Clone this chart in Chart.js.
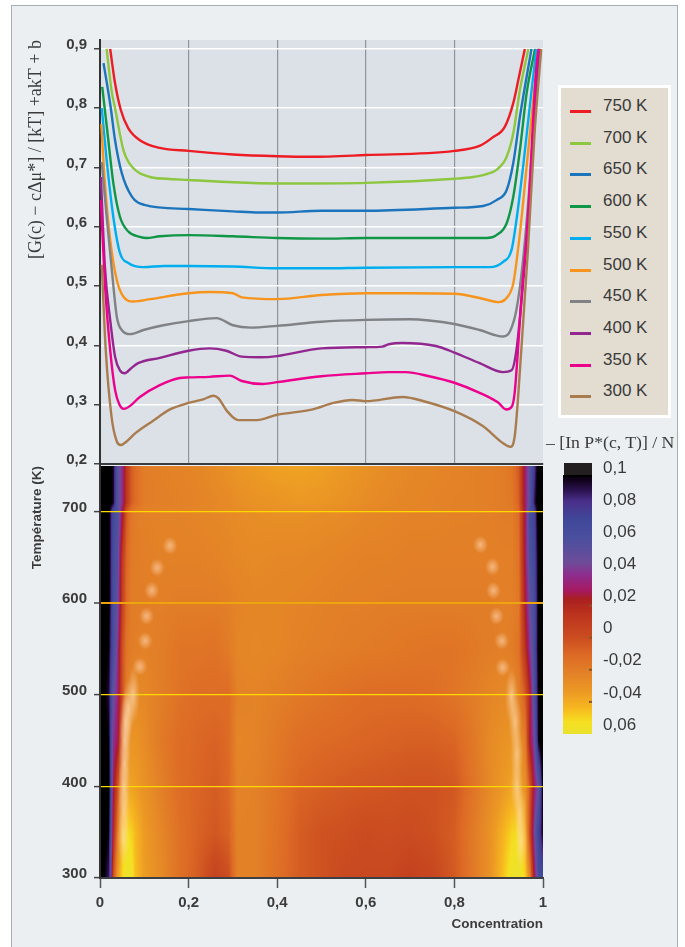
<!DOCTYPE html>
<html>
<head>
<meta charset="utf-8">
<script src="https://cdn.jsdelivr.net/npm/chart.js@4"></script>
<style>
  html, body { margin: 0; padding: 0; background: #fff; overflow: hidden; }
  #page { position: relative; width: 685px; height: 947px; overflow: hidden; }
  #panel { position: absolute; left: 11px; top: 5px; width: 667px; height: 960px; background: #ebeff2; border: 1.5px solid #a5aeb5; box-sizing: border-box; }
  canvas { position: absolute; }
  #legend { position: absolute; left: 558px; top: 85px; width: 113px; height: 333px; box-sizing: border-box; background: #e2dcd1; border: 3px solid #fff; font: 17px "Liberation Sans"; color: #3a3a3a; }
  #legend div { position: absolute; left: 42px; line-height: 20px; white-space: nowrap; }
  #legend span { position: absolute; left: 9px; width: 21px; height: 3px; }
  #barTitle { position: absolute; left: 546px; top: 432px; font: 17.7px "Liberation Serif"; color: #3a3a3a; white-space: nowrap; }
</style>
</head>
<body>
<div id="page">
  <div id="panel"></div>
  <canvas id="curves" width="685" height="484" style="left:0;top:0"></canvas>
  <canvas id="heat" width="685" height="497" style="left:0;top:450px"></canvas>
  <canvas id="bar" width="145" height="310" style="left:540px;top:440px"></canvas>
  <div id="legend"></div>
  <div id="barTitle">– [In P*(c, T)] / N</div>
</div>
<script>
// free energy curves
const temps = [750, 700, 650, 600, 550, 500, 450, 400, 350, 300];
const colors = ["#ed1c24", "#8dc63f", "#1c75bc", "#0f9647", "#00aeef", "#f7941d", "#808285", "#92278f", "#ec008c", "#a97c50"];

const c750 = [.023,.034,.047,.064,.09,.135,.2,.3,.4,.474,.6,.8,.858,.885,.914,.933,.946,.959];
const g750 = [.9,.842,.797,.766,.746,.733,.728,.722,.719,.718,.721,.728,.737,.75,.769,.809,.854,.9];
const c700 = [.015,.026,.034,.053,.075,.113,.15,.2,.3,.4,.47,.6,.8,.842,.873,.895,.918,.933,.948,.967];
const g700 = [.9,.83,.8,.729,.699,.684,.681,.679,.675,.673,.673,.674,.681,.684,.689,.696,.718,.758,.831,.9];
const c650 = [.008,.024,.034,.049,.072,.10,.2,.3,.36,.4,.5,.6,.8,.865,.895,.918,.933,.948,.974];
const g650 = [.876,.802,.746,.691,.651,.637,.63,.626,.624,.624,.627,.627,.632,.635,.645,.662,.708,.786,.9];
const c600 = [.005,.017,.03,.045,.064,.09,.105,.135,.2,.3,.4,.5,.6,.8,.873,.895,.918,.933,.948,.963,.982];
const g600 = [.836,.758,.674,.617,.592,.583,.581,.584,.586,.584,.581,.58,.581,.581,.581,.586,.606,.651,.73,.825,.9];
const c550 = [.004,.015,.03,.045,.064,.098,.145,.2,.3,.4,.5,.6,.8,.88,.91,.929,.94,.955,.97,.985];
const g550 = [.8,.713,.617,.556,.539,.532,.534,.534,.533,.53,.53,.531,.532,.532,.541,.561,.611,.701,.802,.9];
const c500 = [.003,.011,.023,.038,.053,.075,.113,.2,.247,.3,.32,.4,.5,.6,.7,.8,.857,.9,.92,.933,.948,.963,.978,.99];
const g500 = [.773,.674,.578,.51,.482,.474,.478,.488,.49,.488,.481,.478,.485,.488,.488,.487,.48,.473,.482,.505,.59,.701,.814,.9];
const c450 = [.004,.015,.026,.038,.049,.068,.098,.143,.2,.263,.3,.34,.4,.5,.6,.7,.743,.8,.857,.91,.925,.94,.955,.97,.985,.993];
const g450 = [.709,.617,.533,.448,.426,.419,.426,.434,.441,.446,.434,.43,.433,.44,.443,.444,.442,.436,.426,.415,.423,.46,.544,.674,.842,.9];
const c400 = [.002,.011,.023,.034,.045,.056,.071,.086,.135,.2,.247,.285,.32,.36,.4,.5,.6,.637,.652,.682,.758,.8,.857,.91,.929,.94,.955,.97,.985,.992];
const g400 = [.684,.533,.443,.381,.358,.353,.362,.37,.379,.391,.395,.391,.381,.38,.382,.395,.397,.398,.402,.404,.399,.388,.37,.355,.358,.392,.505,.645,.842,.9];
const c350 = [.002,.011,.023,.034,.044,.054,.068,.09,.135,.18,.2,.247,.293,.32,.367,.4,.5,.6,.652,.69,.743,.8,.857,.898,.917,.929,.936,.951,.966,.985,.99];
const g350 = [.645,.505,.392,.325,.3,.293,.298,.313,.333,.345,.346,.347,.349,.34,.335,.338,.348,.353,.355,.355,.348,.337,.32,.304,.292,.296,.32,.477,.617,.87,.9];
const c300 = [.004,.013,.026,.038,.047,.06,.08,.12,.158,.2,.233,.256,.267,.286,.312,.354,.4,.48,.527,.57,.6,.683,.735,.8,.864,.91,.926,.936,.951,.966,.981,.996];
const g300 = [.536,.392,.28,.238,.232,.238,.252,.273,.292,.303,.309,.315,.311,.29,.274,.274,.283,.292,.303,.308,.306,.313,.305,.289,.264,.235,.229,.246,.392,.561,.758,.9];
const curveC = [c750, c700, c650, c600, c550, c500, c450, c400, c350, c300];
const curveG = [g750, g700, g650, g600, g550, g500, g450, g400, g350, g300];

// heat map grid: -[ln P*(c,T)]/N estimated from the colours
const heatC = [0,.02,.03,.04,.05,.06,.07,.08,.10,.14,.18,.22,.26,.29,.31,.35,.40,.45,.50,.55,.60,.65,.70,.75,.80,.84,.88,.91,.93,.945,.96,.97,.98,.99,1];
const heatT = [300, 350, 400, 450, 500, 550, 600, 650, 700, 710, 750];
const heat300 = [.11,.09,0,-.035,-.05,-.058,-.058,-.045,-.035,-.026,-.014,-.006,.006,0,-.022,-.022,-.014,-.006,-.002,.002,.003,.003,.007,.004,-.005,-.017,-.03,-.046,-.058,-.06,-.05,-.025,.025,.065,.07];
const heat350 = [.11,.10,.02,-.02,-.045,-.052,-.05,-.044,-.034,-.024,-.014,-.008,-.004,-.008,-.022,-.022,-.015,-.006,-.002,-.001,.001,0,.001,-.001,-.006,-.018,-.03,-.042,-.05,-.052,-.04,0,.045,.075,.10];
const heat400 = [.11,.105,.03,0,-.022,-.035,-.037,-.035,-.03,-.021,-.012,-.009,-.006,-.01,-.023,-.022,-.016,-.009,-.007,-.005,-.004,-.003,-.002,-.002,-.004,-.015,-.026,-.033,-.037,-.036,-.03,-.005,.03,.05,.105];
const heat450 = [.11,.10,.04,.028,0,-.025,-.031,-.031,-.027,-.018,-.012,-.01,-.008,-.011,-.024,-.023,-.018,-.013,-.011,-.01,-.009,-.008,-.007,-.007,-.009,-.017,-.026,-.03,-.032,-.03,-.02,.025,.045,.10,.11];
const heat500 = [.11,.095,.05,.035,0,-.02,-.024,-.026,-.025,-.02,-.015,-.012,-.012,-.012,-.022,-.023,-.021,-.018,-.016,-.014,-.012,-.012,-.012,-.013,-.016,-.02,-.024,-.026,-.026,-.022,-.005,.02,.06,.10,.11];
const heat550 = [.11,.10,.065,.04,0,-.016,-.02,-.021,-.022,-.02,-.016,-.016,-.015,-.019,-.024,-.025,-.024,-.022,-.021,-.02,-.019,-.018,-.017,-.016,-.016,-.018,-.02,-.021,-.02,-.015,.015,.04,.065,.105,.11];
const heat600 = [.11,.105,.065,.05,.008,-.012,-.019,-.02,-.02,-.021,-.02,-.02,-.02,-.021,-.023,-.024,-.024,-.023,-.022,-.021,-.021,-.02,-.02,-.02,-.02,-.02,-.02,-.021,-.021,-.018,.025,.05,.065,.105,.11];
const heat650 = [.11,.105,.068,.055,.012,-.01,-.018,-.02,-.021,-.022,-.022,-.022,-.023,-.024,-.025,-.026,-.025,-.025,-.024,-.023,-.022,-.022,-.021,-.021,-.021,-.021,-.021,-.021,-.021,-.015,.03,.06,.07,.105,.11];
const heat700 = [.11,.105,.07,.06,.03,-.005,-.016,-.02,-.022,-.023,-.023,-.024,-.025,-.026,-.027,-.028,-.029,-.029,-.028,-.027,-.025,-.024,-.023,-.023,-.022,-.022,-.021,-.02,-.02,-.012,.03,.065,.075,.11,.11];
const heat710 = [.11,.108,.098,.055,.04,.012,-.005,-.012,-.02,-.021,-.022,-.023,-.025,-.026,-.028,-.03,-.031,-.033,-.032,-.03,-.027,-.025,-.024,-.023,-.022,-.022,-.021,-.02,-.018,-.008,.032,.055,.09,.11,.11];
const heat750 = [.11,.108,.098,.055,.04,.012,-.005,-.012,-.02,-.022,-.023,-.024,-.027,-.03,-.032,-.034,-.037,-.037,-.036,-.033,-.03,-.027,-.025,-.024,-.023,-.022,-.021,-.02,-.016,-.005,.032,.055,.08,.11,.11];
const heatRows = [heat300, heat350, heat400, heat450, heat500, heat550, heat600, heat650, heat700, heat710, heat750];

// pale ridge (c,T): the continuous part and the separate blobs
const ridgeC = [.053,.054,.054,.055,.056,.058,.064,.075,.951,.948,.941,.941,.937,.929];
const ridgeT = [345,375,400,425,450,470,485,500,340,370,400,435,470,498];
const blobC = [.09,.102,.105,.117,.129,.158,.909,.907,.895,.888,.886,.859];
const blobT = [531,559,586,614,639,663,530,559,586,614,640,664];

// colour scale
const scaleValues = [-.06,-.0525,-.044,-.034,-.021,-.011,0,.014,.024,.029,.0387,.047,.062,.074,.085,.091,.099];
const scaleColors = [[235,226,46],[245,224,32],[247,184,31],[236,154,36],[226,127,39],[221,106,37],[203,77,32],[189,52,30],[169,32,31],[166,25,94],[143,44,141],[109,76,153],[74,79,158],[64,71,153],[74,47,138],[46,21,86],[14,0,21]];
const barLabels = ["0,06", "-0,04", "-0,02", "0", "0,02", "0,04", "0,06", "0,08", "0,1"];

Chart.defaults.font.family = '"Liberation Sans"';
Chart.defaults.color = "#3b3b3b";
Chart.defaults.animation = false;
Chart.defaults.responsive = false;
Chart.defaults.plugins.legend.display = false;
Chart.defaults.plugins.tooltip.enabled = false;

const comma = v => String(+v.toFixed(1)).replace(".", ",");
const tickFont = { size: 15, weight: "bold" };
const fixWidth = w => scale => { scale.width = w; };
const fixHeight = h => scale => { scale.height = h; };

function colorFor(v) {
  const n = scaleValues.length;
  if (v <= scaleValues[0]) return scaleColors[0];
  if (v >= scaleValues[n - 1]) return v > .1 ? [0, 0, 0] : scaleColors[n - 1];
  let i = 0;
  while (scaleValues[i + 1] < v) i++;
  const t = (v - scaleValues[i]) / (scaleValues[i + 1] - scaleValues[i]);
  return scaleColors[i].map((a, k) => a + (scaleColors[i + 1][k] - a) * t);
}

function gridIndex(list, v) {
  let i = 0;
  while (i < list.length - 2 && list[i + 1] < v) i++;
  const t = Math.min(1, Math.max(0, (v - list[i]) / (list[i + 1] - list[i])));
  return [i, t];
}

function heatValue(c, T) {
  const [i, u] = gridIndex(heatC, c);
  const [j, w] = gridIndex(heatT, T);
  const a = heatRows[j][i] * (1 - u) + heatRows[j][i + 1] * u;
  const b = heatRows[j + 1][i] * (1 - u) + heatRows[j + 1][i + 1] * u;
  return a * (1 - w) + b * w;
}

const plotBackground = {
  id: "plotBackground",
  beforeDraw(chart) {
    const a = chart.chartArea;
    chart.ctx.fillStyle = "#dbe1e6";
    chart.ctx.fillRect(a.left, a.top, a.right - a.left, a.bottom - a.top);
  }
};

const heatImage = {
  id: "heatImage",
  beforeDraw(chart) {
    const a = chart.chartArea, xs = chart.scales.x, ys = chart.scales.y;
    const w = Math.round(a.right - a.left), h = Math.round(a.bottom - a.top);
    const img = chart.ctx.createImageData(w, h);
    for (let py = 0; py < h; py++) {
      const T = ys.getValueForPixel(a.top + py + .5);
      for (let px = 0; px < w; px++) {
        const rgb = colorFor(heatValue(xs.getValueForPixel(a.left + px + .5), T));
        const k = (py * w + px) * 4;
        img.data[k] = rgb[0]; img.data[k + 1] = rgb[1]; img.data[k + 2] = rgb[2]; img.data[k + 3] = 255;
      }
    }
    chart.ctx.putImageData(img, Math.round(a.left), Math.round(a.top));
  }
};

const barImage = {
  id: "barImage",
  beforeDraw(chart) {
    const a = chart.chartArea, ys = chart.scales.y, ctx = chart.ctx;
    for (let py = Math.round(a.top); py < a.bottom; py++) {
      const v = ys.getValueForPixel(py + .5);
      if (v > .101) {
        ctx.fillStyle = "#231f20";
        ctx.fillRect(a.left + 1, py, a.right - a.left - 1, 1);
      } else {
        ctx.fillStyle = "rgb(" + colorFor(v).map(Math.round).join(",") + ")";
        ctx.fillRect(a.left, py, a.right - a.left, 1);
      }
    }
  },
  afterDraw(chart) {
    const a = chart.chartArea, ys = chart.scales.y;
    chart.ctx.fillStyle = "#8a5520";
    [-.04, -.02, 0, .02].forEach(v => chart.ctx.fillRect(a.right - 3, ys.getPixelForValue(v) - 1, 3, 2));
  }
};

function paleSprite(w, h, color) {
  const s = document.createElement("canvas");
  s.width = w; s.height = h;
  const g = s.getContext("2d");
  g.translate(w / 2, h / 2);
  g.scale(w / 2, h / 2);
  const r = g.createRadialGradient(0, 0, 0, 0, 0, 1);
  r.addColorStop(0, color);
  r.addColorStop(1, "rgba(255,215,170,0)");
  g.fillStyle = r;
  g.fillRect(-1, -1, 2, 2);
  return s;
}

new Chart(document.getElementById("curves"), {
  type: "scatter",
  data: {
    datasets: temps.map((t, i) => ({
      label: t + " K",
      data: curveC[i].map((c, k) => ({ x: c, y: curveG[i][k] })),
      showLine: true,
      borderColor: colors[i],
      backgroundColor: colors[i],
      borderWidth: 2.4,
      pointRadius: 0,
      cubicInterpolationMode: "monotone",
      order: -i
    }))
  },
  plugins: [plotBackground],
  options: {
    layout: { padding: { left: 0, right: 142, top: 40, bottom: 20 } },
    scales: {
      x: {
        min: 0, max: 1,
        afterFit: fixHeight(0),
        ticks: { display: false, stepSize: .2 },
        grid: {
          drawTicks: false,
          lineWidth: 1.2,
          color: ctx => (ctx.tick && ctx.tick.value > .01 && ctx.tick.value < .99) ? "#8f9599" : "rgba(0,0,0,0)"
        },
        border: { color: "#3a3d40", width: 2 }
      },
      y: {
        min: .2, max: .915,
        afterFit: fixWidth(100),
        ticks: { stepSize: .1, includeBounds: false, font: tickFont, padding: 7, labelOffset: -4, callback: comma },
        grid: { color: "#fff", lineWidth: 1.5, tickColor: "#444", tickLength: 6, tickWidth: 1.5 },
        border: { color: "#333", width: 2 },
        title: {
          display: true, align: "end",
          text: "[G(c) − cΔμ*] / [kT] +akT + b",
          font: { family: '"Liberation Serif"', size: 18 },
          padding: { top: 25, bottom: 0 }
        }
      }
    }
  }
});

const curveChart = Chart.getChart("curves");
const legendBox = document.getElementById("legend");
Chart.defaults.plugins.legend.labels.generateLabels(curveChart)
  .sort((a, b) => a.datasetIndex - b.datasetIndex)
  .forEach((item, i) => {
    const row = document.createElement("div");
    row.style.top = (8 + i * 31.7) + "px";
    row.textContent = item.text;
    const swatch = document.createElement("span");
    swatch.style.background = item.strokeStyle;
    swatch.style.top = (22 + i * 31.7) + "px";
    legendBox.appendChild(row);
    legendBox.appendChild(swatch);
  });

const ridgeSprite = paleSprite(13, 58, "rgba(255,228,190,.62)");
const blobSprite = paleSprite(15, 18, "rgba(255,205,165,.7)");

new Chart(document.getElementById("heat"), {
  type: "scatter",
  data: {
    datasets: [
      {
        label: "ridge",
        data: ridgeC.map((c, k) => ({ x: c, y: ridgeT[k] })),
        pointStyle: ridgeSprite,
        pointRadius: 3
      },
      {
        label: "blobs",
        data: blobC.map((c, k) => ({ x: c, y: blobT[k] })),
        pointStyle: blobSprite,
        pointRadius: 3
      }
    ]
  },
  plugins: [heatImage],
  options: {
    layout: { padding: { left: 0, right: 142, top: 14, bottom: 0 } },
    scales: {
      x: {
        min: 0, max: 1,
        afterFit: fixHeight(69),
        ticks: { stepSize: .2, font: tickFont, padding: 6, maxRotation: 0, callback: comma },
        grid: { drawOnChartArea: false, tickColor: "#555", tickLength: 10, tickWidth: 1.5 },
        border: { color: "#3d3f42", width: 2 },
        title: {
          display: true, align: "end",
          text: "Concentration",
          font: { size: 13.5, weight: "bold" },
          padding: { top: 0, bottom: 15 }
        }
      },
      y: {
        min: 300, max: 750,
        afterFit: fixWidth(100),
        ticks: { stepSize: 100, includeBounds: false, font: tickFont, padding: 7, labelOffset: -4 },
        grid: {
          tickColor: "#444", tickLength: 6, tickWidth: 1.5,
          color: ctx => {
            if (!ctx.tick) return "rgba(0,0,0,0)";
            if (ctx.tick.value === 300) return "#fff";
            return ctx.tick.value === 600 ? "#eda50d" : "#ffd800";
          },
          lineWidth: ctx => (ctx.tick && ctx.tick.value === 600) ? 2 : 1.2
        },
        border: { color: "#333", width: 2 },
        title: {
          display: true, align: "end",
          text: "Température (K)",
          font: { size: 13.5, weight: "bold" },
          padding: { top: 29, bottom: 0 }
        }
      }
    }
  }
});

new Chart(document.getElementById("bar"), {
  type: "scatter",
  data: { datasets: [{ data: [] }] },
  plugins: [barImage],
  options: {
    layout: { padding: { left: 23, right: 0, top: 23, bottom: 16 } },
    scales: {
      x: { display: false },
      y: {
        position: "right",
        min: -.06, max: .10875,
        afterFit: fixWidth(93),
        ticks: {
          stepSize: .02, includeBounds: false, padding: 3, labelOffset: -9,
          font: { size: 17 }, color: "#3a3a3a",
          callback: (v, i) => barLabels[i]
        },
        grid: { display: false },
        border: { display: false }
      }
    }
  }
});
</script>
</body>
</html>
